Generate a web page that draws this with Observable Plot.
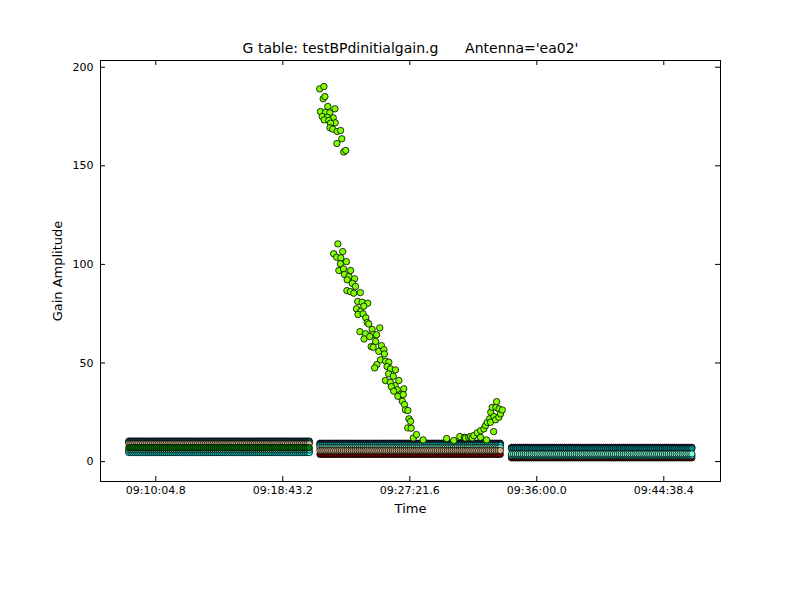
<!DOCTYPE html>
<html>
<head>
<meta charset="utf-8">
<script src="https://cdn.jsdelivr.net/npm/d3@7"></script>
<script src="https://cdn.jsdelivr.net/npm/@observablehq/plot@0.6"></script>
<style>
  html, body { margin: 0; padding: 0; background: #ffffff; }
</style>
</head>
<body>
<div id="chart"></div>
<script>
// ---- Text ----
const titleText = "G table: testBPdinitialgain.g\u00a0\u00a0\u00a0\u00a0\u00a0\u00a0Antenna='ea02'";
const xLabel = "Time";
const yLabel = "Gain Amplitude";

// ---- Axes ----
const xDomainLabels = ["09:06:19.1", "09:48:29.9"];
const xTickLabels = ["09:10:04.8", "09:18:43.2", "09:27:21.6", "09:36:00.0", "09:44:38.4"];
const yDomain = [-10.1, 203.4];
const yTicks = [0, 50, 100, 150, 200];

// ---- Scans (solution intervals) ----
const scanStart = ["09:08:15", "09:21:15", "09:34:17"];
const scanEnd   = ["09:20:36", "09:33:36", "09:46:36"];
const integrationSec = 8;

// ---- Band series: amplitude level per scan (null = not in that scan) ----
const bandSeries = ["maroon", "purple", "darkcyan", "cyan", "aquamarine", "tan", "green"];
const bandColors = ["#8b1a4a", "#9400d3", "#008b8b", "#00e5ee", "#66cdaa", "#d2b48c", "#7fff00"];
const levelMaroon     = [5.0, 3.7, 1.9];
const levelPurple     = [10.4, 9.3, 7.2];
const levelDarkcyan   = [9.9, 8.8, 6.6];
const levelCyan       = [4.6, 8.1, 3.0];
const levelAquamarine = [6.0, 7.0, 3.9];
const levelTan        = [9.0, 5.6, null];
const levelGreen      = [7.0, null, null];

// ---- Outlying solutions (green series, scan 2) ----
const outlierColor = "#7fff00";
const outlierTimes = [
  "09:21:14","09:21:31","09:21:28","09:21:35","09:21:47","09:22:16","09:21:17","09:21:38","09:21:55","09:21:24",
  "09:21:45","09:22:09","09:21:32","09:21:51","09:22:17","09:21:58","09:21:56","09:22:07","09:22:25","09:22:39",
  "09:22:44","09:22:24","09:22:52","09:23:00",
  "09:22:28","09:22:11","09:22:48","09:22:23","09:22:40","09:23:03","09:22:38","09:22:32","09:22:51","09:23:20",
  "09:22:55","09:23:13","09:23:36","09:23:06","09:23:27","09:23:40","09:23:05","09:23:19","09:23:33","09:24:00",
  "09:23:49","09:24:07","09:24:30","09:23:44","09:24:01","09:24:14","09:23:50","09:24:11","09:24:22","09:24:28",
  "09:24:34","09:24:48","09:25:19","09:23:58","09:24:21","09:24:49","09:25:06","09:24:15","09:24:38","09:25:02",
  "09:24:44","09:24:52","09:25:26","09:25:15","09:25:36","09:25:38","09:25:22","09:25:07","09:24:58","09:25:43",
  "09:25:56","09:25:49","09:26:03","09:26:23","09:25:55","09:26:14","09:25:42","09:26:02","09:26:37","09:26:22",
  "09:26:06","09:26:57","09:26:30","09:26:16","09:26:44","09:26:33","09:26:55","09:26:51","09:27:00","09:27:04",
  "09:27:14","09:27:18","09:27:25","09:27:13","09:27:27","09:27:36","09:27:49","09:28:16",
  "09:29:52","09:30:21","09:30:46","09:31:05","09:31:09","09:31:22","09:31:29","09:31:36","09:31:43","09:31:57",
  "09:32:10","09:32:11","09:32:24","09:32:31","09:32:35","09:32:38","09:32:48","09:32:51","09:32:52","09:32:58",
  "09:33:04","09:33:05","09:33:12","09:33:13","09:33:16","09:33:25","09:33:26","09:33:32","09:33:39"
];
const outlierAmps = [
  189.0,190.2,184.0,185.1,180.1,178.9,177.5,177.2,176.9,175.0,
  174.6,174.3,173.3,173.0,171.8,171.6,169.3,168.6,167.4,167.9,
  163.7,161.3,157.0,157.8,
  110.4,105.4,106.5,103.6,103.3,101.4,100.3,96.9,97.7,96.9,
  94.9,93.8,92.7,92.2,90.4,88.8,86.7,86.2,85.4,85.7,
  81.2,80.8,80.3,77.5,76.2,78.8,74.6,74.9,72.9,70.5,
  69.8,67.0,67.8,65.9,64.8,64.4,64.3,62.2,63.4,60.9,
  58.3,58.0,58.8,55.9,56.7,54.6,51.6,49.2,47.5,50.9,
  50.4,48.2,47.0,46.5,44.5,43.3,41.1,40.2,41.1,38.5,
  38.0,36.9,36.4,35.7,34.0,33.1,34.0,30.6,28.9,26.2,
  25.9,21.7,20.4,17.1,16.9,12.0,13.7,11.0,
  11.7,10.7,12.7,12.3,12.0,12.3,12.7,12.0,13.2,14.6,
  12.3,15.7,16.6,18.3,11.0,19.9,21.7,19.9,25.0,27.5,
  15.2,22.8,21.2,27.5,30.4,22.5,26.7,24.2,26.2
];

// ---- Build tables ----
const toDate = s => {
  const [hms, frac = "0"] = s.split(".");
  return new Date("2000-01-01T" + hms + "." + frac.padEnd(3, "0") + "Z");
};
const bandLevels = [levelMaroon, levelPurple, levelDarkcyan, levelCyan, levelAquamarine, levelTan, levelGreen];
const bandRows = [];
bandSeries.forEach((name, k) => {
  scanStart.forEach((s, i) => {
    const level = bandLevels[k][i];
    if (level == null) return;
    const t0 = toDate(s).getTime(), t1 = toDate(scanEnd[i]).getTime();
    for (let t = t0; t <= t1; t += integrationSec * 1000) {
      bandRows.push({time: new Date(t), amp: level, series: name});
    }
  });
});
const outliers = outlierTimes.map((t, i) => ({time: toDate(t), amp: outlierAmps[i]}));
const xTickDates = xTickLabels.map(toDate);
const tickLabelFor = d => {
  const i = xTickDates.findIndex(t => t.getTime() === d.getTime());
  return i >= 0 ? xTickLabels[i] : "";
};

const W = 800, H = 600, mT = 60, mR = 80, mB = 119, mL = 100;
const frameW = W - mL - mR, frameH = H - mT - mB, tickLen = 5;

const chart = Plot.plot({
  width: W, height: H,
  marginTop: mT, marginRight: mR, marginBottom: mB, marginLeft: mL,
  style: {fontFamily: "'DejaVu Sans', sans-serif", fontSize: "11px", color: "black", background: "white"},
  x: {type: "utc", domain: xDomainLabels.map(toDate), ticks: xTickDates, tickFormat: tickLabelFor,
      tickSize: 0, tickPadding: 5, label: null},
  y: {domain: yDomain, ticks: yTicks, tickSize: 0, tickPadding: 7, label: null},
  color: {domain: bandSeries, range: bandColors},
  marks: [
    Plot.dot(bandRows, {x: "time", y: "amp", fill: "series", r: 3.2, stroke: "black", strokeWidth: 0.8}),
    Plot.dot(outliers, {x: "time", y: "amp", fill: outlierColor, r: 3.2, stroke: "black", strokeWidth: 0.8}),
    Plot.frame({stroke: "black", strokeWidth: 1}),
    Plot.tickY(yTicks, {y: d => d, insetRight: frameW - tickLen, stroke: "black"}),
    Plot.tickY(yTicks, {y: d => d, insetLeft: frameW - tickLen, stroke: "black"}),
    Plot.tickX(xTickDates, {x: d => d, insetTop: frameH - tickLen, stroke: "black"}),
    Plot.tickX(xTickDates, {x: d => d, insetBottom: frameH - tickLen, stroke: "black"}),
    Plot.text([titleText], {text: d => d, frameAnchor: "top", textAnchor: "middle", lineAnchor: "middle", dy: -12, fontSize: 14, fill: "black"}),
    Plot.text([xLabel], {text: d => d, frameAnchor: "bottom", textAnchor: "middle", lineAnchor: "middle", dy: 27, fontSize: 13, fill: "black"}),
    Plot.text([yLabel], {text: d => d, frameAnchor: "left", textAnchor: "middle", lineAnchor: "middle", rotate: -90, dx: -43, fontSize: 13, fill: "black"})
  ]
});
document.getElementById("chart").appendChild(chart);
</script>
</body>
</html>
